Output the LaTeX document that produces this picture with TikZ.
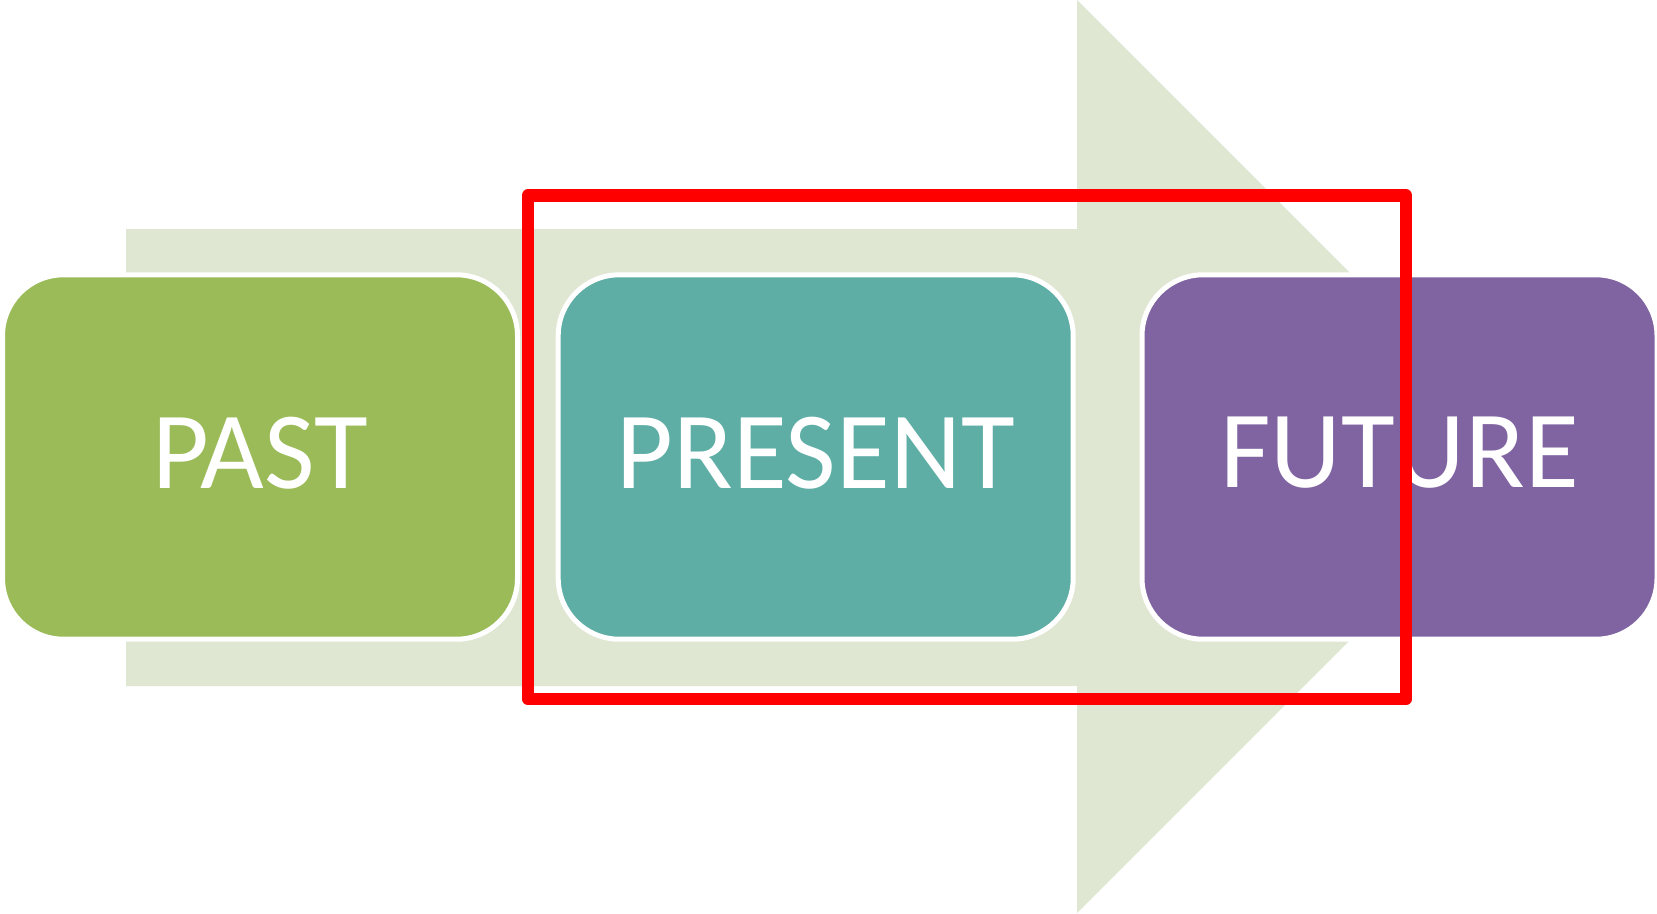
\documentclass[tikz,border=0pt]{standalone}
\usepackage{fontspec}
\setmainfont{Carlito}
\definecolor{arrowgreen}{HTML}{DFE7D3}
\definecolor{pastgreen}{HTML}{9BBB59}
\definecolor{presentteal}{HTML}{5EAEA6}
\definecolor{futurepurple}{HTML}{8064A2}
\definecolor{framered}{HTML}{FF0000}
\begin{document}
\begin{tikzpicture}[x=1pt,y=-1pt,
  phasebox/.style={draw=white, line width=5pt, rounded corners=61pt,
    minimum width=515pt, minimum height=364.4pt, inner sep=0pt, outer sep=0pt},
  phaselabel/.style={text=white, inner sep=0pt, font=\fontsize{110}{132}\selectfont},
  frame/.style={draw=framered, line width=12.5pt, line join=round}
]
\useasboundingbox (0,0) rectangle (1657,913);
% big background arrow
\fill[arrowgreen] (126,229) -- (1077,229) -- (1077,0) -- (1533.5,456.5)
  -- (1077,913) -- (1077,686) -- (126,686) -- cycle;
% boxes
\node[phasebox, fill=pastgreen] (past) at (260,457) {};
\node[phasebox, fill=presentteal] (present) at (815.7,457) {};
\node[phasebox, fill=futurepurple] (future) at (1399.5,457) {};
% labels
\node[phaselabel] (pastlabel) at ([yshift=4pt]past.center) {PAST};
\node[phaselabel] (presentlabel) at ([yshift=4pt]present.center) {PRESENT};
\node[phaselabel] (futurelabel) at ([yshift=4pt]future.center) {FUTURE};
% red highlight frame
\draw[frame] (528,195.5) rectangle (1406,699);
\end{tikzpicture}
\end{document}
